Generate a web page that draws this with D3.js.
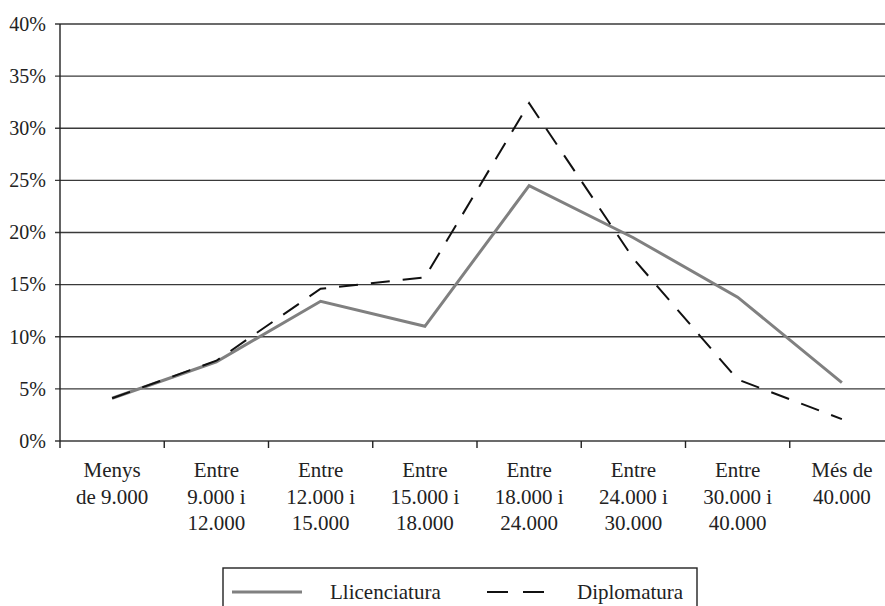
<!DOCTYPE html>
<html>
<head>
<meta charset="utf-8">
<script src="https://cdn.jsdelivr.net/npm/d3@7"></script>
<style>
  html, body { margin: 0; padding: 0; background: #fff; }
  svg { display: block; }
  text { font-family: "Liberation Serif", "Times New Roman", serif; fill: #222; }
</style>
</head>
<body>
<svg id="chart" width="885" height="606"></svg>
<script>
// ---- data ----
const categories = [
  ["Menys", "de 9.000"],
  ["Entre", "9.000 i", "12.000"],
  ["Entre", "12.000 i", "15.000"],
  ["Entre", "15.000 i", "18.000"],
  ["Entre", "18.000 i", "24.000"],
  ["Entre", "24.000 i", "30.000"],
  ["Entre", "30.000 i", "40.000"],
  ["Més de", "40.000"]
];
const llicenciatura = [4.1, 7.6, 13.4, 11.0, 24.5, 19.5, 13.8, 5.6];
const diplomatura   = [4.1, 7.7, 14.6, 15.7, 32.4, 17.5, 5.9, 2.1];
const yTicks = [0, 5, 10, 15, 20, 25, 30, 35, 40];
const seriesNames = ["Llicenciatura", "Diplomatura"];

// ---- layout ----
const svg = d3.select("#chart");
const plotLeft = 60, plotRight = 894, plotTop = 24, plotBottom = 441;
const keys = categories.map((c, i) => i);

const x = d3.scaleBand().domain(keys).range([plotLeft, plotRight]).padding(0);
const y = d3.scaleLinear().domain([0, 40]).range([plotBottom, plotTop]);

// gridlines + y labels
const grid = svg.append("g");
grid.selectAll("line").data(yTicks).join("line")
  .attr("x1", plotLeft - 5).attr("x2", 885)
  .attr("y1", d => y(d)).attr("y2", d => y(d))
  .attr("stroke", "#3a3a3a").attr("stroke-width", 1.4);
grid.selectAll("text").data(yTicks).join("text")
  .attr("x", 46).attr("y", d => y(d)).attr("dy", "0.34em")
  .attr("text-anchor", "end").attr("font-size", 20)
  .text(d => d + "%");

// left axis line
svg.append("line")
  .attr("x1", plotLeft).attr("x2", plotLeft).attr("y1", plotTop).attr("y2", plotBottom + 7)
  .attr("stroke", "#222").attr("stroke-width", 1.4);

// x ticks at band boundaries
const boundaries = keys.slice(1).map(k => x(k));
boundaries.push(plotRight);
svg.append("g").selectAll("line").data(boundaries).join("line")
  .attr("x1", d => d).attr("x2", d => d)
  .attr("y1", plotBottom).attr("y2", plotBottom + 7)
  .attr("stroke", "#222").attr("stroke-width", 1.4);

// category labels
const catG = svg.append("g");
categories.forEach((lines, i) => {
  const cx = x(i) + x.bandwidth() / 2;
  const t = catG.append("text")
    .attr("text-anchor", "middle").attr("font-size", 21)
    .attr("x", cx).attr("y", 477);
  lines.forEach((ln, j) => {
    t.append("tspan").attr("x", cx)
      .attr("dy", j === 0 ? 0 : 26.5).text(ln);
  });
});

// lines
const line = d3.line()
  .x((d, i) => x(i) + x.bandwidth() / 2)
  .y(d => y(d));

svg.append("path").datum(llicenciatura)
  .attr("d", line).attr("fill", "none")
  .attr("stroke", "#808080").attr("stroke-width", 3)
  .attr("stroke-linejoin", "miter");

svg.append("path").datum(diplomatura)
  .attr("d", line).attr("fill", "none")
  .attr("stroke", "#111").attr("stroke-width", 2)
  .attr("stroke-dasharray", "19,13");

// legend
const lg = svg.append("g");
lg.append("rect")
  .attr("x", 223).attr("y", 568).attr("width", 474).attr("height", 60)
  .attr("fill", "none").attr("stroke", "#222").attr("stroke-width", 1.4);
lg.append("line")
  .attr("x1", 232).attr("x2", 302).attr("y1", 592).attr("y2", 592)
  .attr("stroke", "#808080").attr("stroke-width", 3);
lg.append("text").attr("x", 330).attr("y", 599).attr("font-size", 21)
  .text(seriesNames[0]);
lg.append("line")
  .attr("x1", 487).attr("x2", 547).attr("y1", 592).attr("y2", 592)
  .attr("stroke", "#111").attr("stroke-width", 2)
  .attr("stroke-dasharray", "21,15");
lg.append("text").attr("x", 577).attr("y", 599).attr("font-size", 21)
  .text(seriesNames[1]);
</script>
</body>
</html>
